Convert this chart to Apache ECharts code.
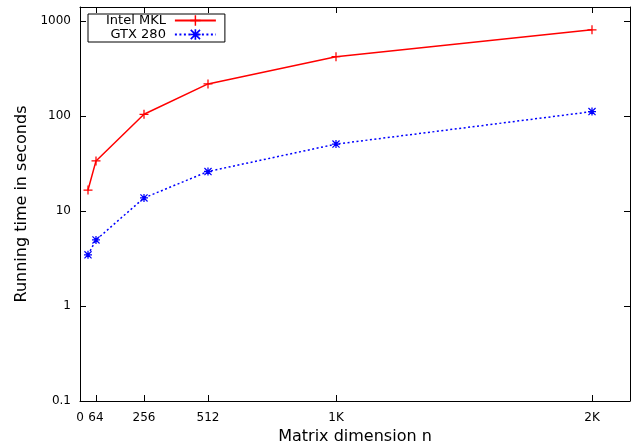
<!DOCTYPE html>
<html><head><meta charset="utf-8">
<script src="https://cdn.jsdelivr.net/npm/echarts@6/dist/echarts.min.js"></script>
<style>html,body{margin:0;padding:0;background:#fff}#c{width:634px;height:445px}</style>
</head><body><div id="c"></div>
<script>
var sizes = [32, 64, 256, 512, 1024, 2048];
var mklTimes = [16.6, 33.6, 104, 217, 420, 805];
var gtxTimes = [3.45, 4.95, 13.7, 26, 50.5, 111];
var xTickValues = [0, 64, 256, 512, 1024, 2048];
var xTickLabels = ['0', '64', '256', '512', '1K', '2K'];
var yTickValues = [0.1, 1, 10, 100, 1000];
var yTickLabels = ['0.1', '1', '10', '100', '1000'];

var FONT = 'DejaVu Sans, Liberation Sans, Arial, sans-serif';
var plusPath = 'path://M4.3,0H5.7V4.3H10V5.7H5.7V10H4.3V5.7H0V4.3H4.3Z';
var starPath = 'path://M4.2,0H5.8V4.2H10V5.8H5.8V10H4.2V5.8H0V4.2H4.2Z M0,1.1L1.1,0L10,8.9L8.9,10Z M8.9,0L10,1.1L1.1,10L0,8.9Z';

function pairs(xs, ys){ return xs.map(function(x,i){ return [x, ys[i]]; }); }
function xFmt(v){ var i = xTickValues.indexOf(v); return i >= 0 ? xTickLabels[i] : ''; }
function yFmt(v){ for (var i=0;i<yTickValues.length;i++){ if (Math.abs(v - yTickValues[i]) < 1e-9*Math.max(1,v)) return yTickLabels[i]; } return ''; }

var baseX = {
  type: 'value', min: 0, max: 2200,
  axisLine: {show: true, onZero: false, lineStyle: {color: '#000', width: 1}},
  splitLine: {show: false}
};
var baseY = {
  type: 'log', logBase: 10, min: 0.1, max: 1400,
  axisLine: {show: true, onZero: false, lineStyle: {color: '#000', width: 1}},
  splitLine: {show: false}
};

var chart = echarts.init(document.getElementById('c'), null, {renderer: 'canvas'});
chart.setOption({
  animation: false,
  backgroundColor: '#fff',
  grid: {left: 80, right: 4, top: 7, bottom: 44, containLabel: false, outerBoundsMode: 'none'},
  legend: {
    orient: 'vertical', left: 88, top: 14,
    borderColor: '#000', borderWidth: 1, borderRadius: 0,
    padding: [0, 8, 1, 18], itemGap: 1, align: 'right',
    itemWidth: 41, itemHeight: 13,
    textStyle: {fontFamily: FONT, fontSize: 13, color: '#000', width: 64, align: 'right', padding: [0, 4, 0, 0]},
    data: ['Intel MKL', 'GTX 280']
  },
  xAxis: [
    Object.assign({}, baseX, {
      position: 'bottom',
      name: 'Matrix dimension n', nameLocation: 'middle', nameGap: 27,
      nameTextStyle: {fontFamily: FONT, fontSize: 16, color: '#000'},
      axisTick: {show: true, inside: true, length: 6, customValues: xTickValues, lineStyle: {color: '#000'}},
      axisLabel: {show: true, customValues: xTickValues, formatter: xFmt, margin: 11,
        fontFamily: FONT, fontSize: 12, color: '#000'}
    }),
    Object.assign({}, baseX, {
      position: 'top',
      axisTick: {show: true, inside: true, length: 6, customValues: xTickValues, lineStyle: {color: '#000'}},
      axisLabel: {show: false}
    })
  ],
  yAxis: [
    Object.assign({}, baseY, {
      position: 'left',
      name: 'Running time in seconds', nameLocation: 'middle', nameGap: 50,
      nameTextStyle: {fontFamily: FONT, fontSize: 16, color: '#000'},
      axisTick: {show: true, inside: true, length: 6, customValues: yTickValues, lineStyle: {color: '#000'}},
      axisLabel: {show: true, customValues: yTickValues, formatter: yFmt, margin: 9,
        fontFamily: FONT, fontSize: 12, color: '#000'}
    }),
    Object.assign({}, baseY, {
      position: 'right',
      axisTick: {show: true, inside: true, length: 6, customValues: yTickValues, lineStyle: {color: '#000'}},
      axisLabel: {show: false}
    })
  ],
  series: [
    {
      name: 'Intel MKL', type: 'line', xAxisIndex: 0, yAxisIndex: 0,
      data: pairs(sizes, mklTimes),
      symbol: plusPath, symbolSize: 9, showSymbol: true,
      lineStyle: {color: '#ff0000', width: 1.5, type: 'solid'},
      itemStyle: {color: '#ff0000'}
    },
    {
      name: 'GTX 280', type: 'line', xAxisIndex: 0, yAxisIndex: 0,
      data: pairs(sizes, gtxTimes),
      symbol: starPath, symbolSize: 8, showSymbol: true,
      lineStyle: {color: '#0000ff', width: 1.5, type: [2, 2.5]},
      itemStyle: {color: '#0000ff'}
    }
  ]
});
</script></body></html>
